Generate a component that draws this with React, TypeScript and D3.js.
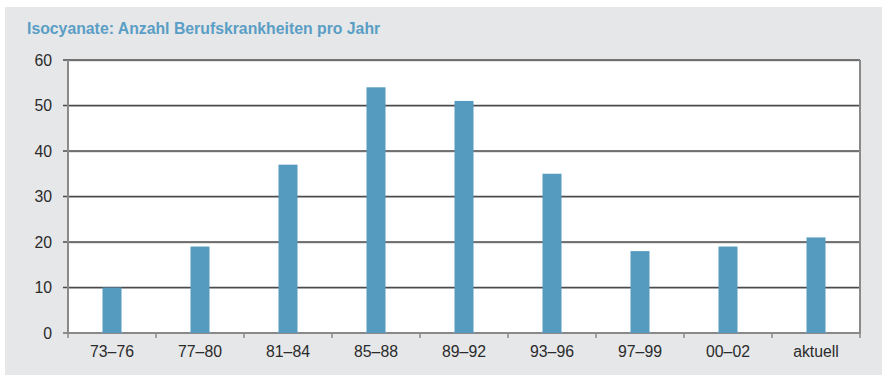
import React from "react";
import * as d3 from "d3";

const categories = ["73–76", "77–80", "81–84", "85–88", "89–92", "93–96", "97–99", "00–02", "aktuell"];
const values = [10, 19, 37, 54, 51, 35, 18, 19, 21];
const yTicks = [0, 10, 20, 30, 40, 50, 60];
const title = "Isocyanate: Anzahl Berufskrankheiten pro Jahr";

const W = 882;
const H = 375;
const plot = { left: 68, right: 860, top: 60, bottom: 333 };

export default function App() {
  const x = d3.scaleBand<string>().domain(categories).range([plot.left, plot.right]).padding(0);
  const y = d3.scaleLinear().domain([0, 60]).range([plot.bottom, plot.top]);
  const barW = 19;
  const font = "'Liberation Sans', Arial, Helvetica, sans-serif";

  return (
    <svg
      width={W}
      height={H}
      style={{ position: "absolute", left: 0, top: 0, display: "block" }}
      fontFamily={font}
    >
      <rect x={0} y={0} width={W} height={H} fill="#ffffff" />
      <rect x={5} y={7} width={W - 5} height={H - 7} fill="#e6e7e9" />
      <text x={27} y={34} fill="#5a9ec5" fontWeight="bold" fontSize={15.8}>
        {title}
      </text>
      <rect
        x={plot.left}
        y={plot.top}
        width={plot.right - plot.left}
        height={plot.bottom - plot.top}
        fill="#ffffff"
      />
      {/* horizontal gridlines */}
      {yTicks.map((t) => (
        <g key={t}>
          {t > 0 && (
            <line
              x1={plot.left}
              x2={plot.right}
              y1={y(t) + 1}
              y2={y(t) + 1}
              stroke="#c8c8c8"
              strokeWidth={1}
            />
          )}
          <line
            x1={plot.left - 5}
            x2={plot.right}
            y1={y(t)}
            y2={y(t)}
            stroke={t === 0 ? "#8a8a8a" : "#4a4a4a"}
            strokeWidth={t === 0 ? 2 : 1.3}
          />
          <text
            x={52}
            y={y(t)}
            dy="0.35em"
            textAnchor="end"
            fontSize={15.8}
            fill="#2b2b2b"
          >
            {t}
          </text>
        </g>
      ))}
      {/* bars */}
      {categories.map((c, i) => {
        const cx = (x(c) as number) + x.bandwidth() / 2;
        return (
          <rect
            key={c}
            x={cx - barW / 2}
            y={y(values[i])}
            width={barW}
            height={y(0) - y(values[i])}
            fill="#559bbf"
          />
        );
      })}
      {/* axes frame */}
      <line x1={plot.left} x2={plot.left} y1={plot.top} y2={plot.bottom + 1} stroke="#8a8a8a" strokeWidth={2} />
      <line x1={plot.right} x2={plot.right} y1={plot.top} y2={plot.bottom + 1} stroke="#8a8a8a" strokeWidth={2} />
      {/* category ticks */}
      {[...categories.map((c) => x(c) as number), plot.right].map((px, i) => (
        <line key={i} x1={px} x2={px} y1={plot.bottom} y2={plot.bottom + 5} stroke="#8a8a8a" strokeWidth={1.5} />
      ))}
      {categories.map((c) => (
        <text
          key={c}
          x={(x(c) as number) + x.bandwidth() / 2}
          y={357}
          textAnchor="middle"
          fontSize={15.8}
          fill="#2b2b2b"
        >
          {c}
        </text>
      ))}
    </svg>
  );
}
